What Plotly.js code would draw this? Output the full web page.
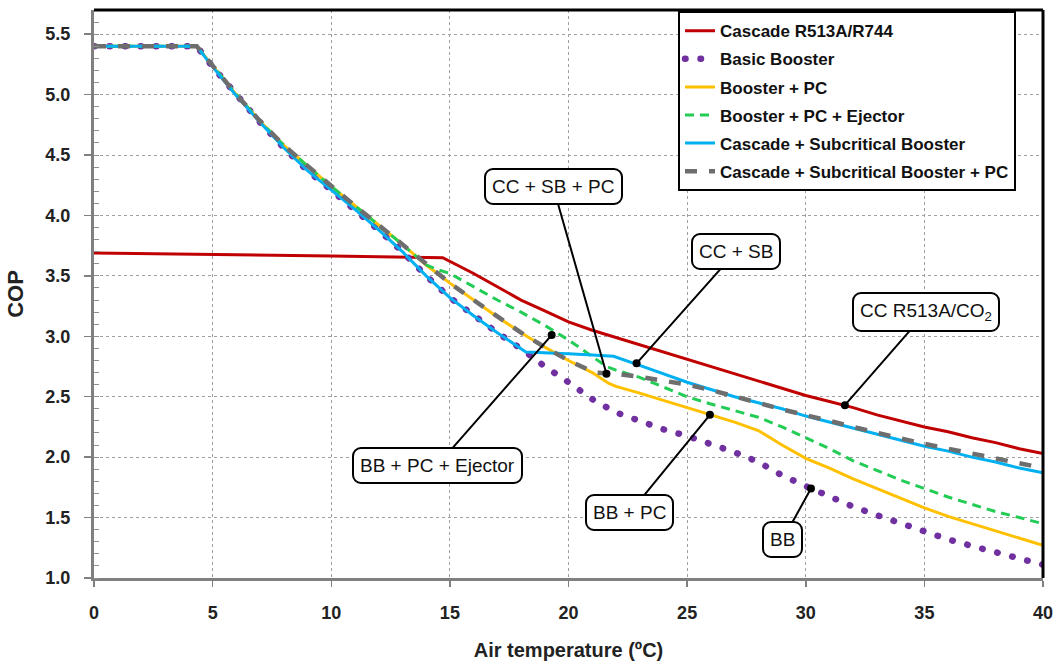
<!DOCTYPE html>
<html>
<head>
<meta charset="utf-8">
<script src="https://cdn.plot.ly/plotly-3.0.1.min.js"></script>
<style>
  html, body { margin: 0; padding: 0; background: #fff; }
  #chart { width: 1058px; height: 664px; }
  path[style*="rgb(112, 48, 160)"] { stroke-linecap: round; }
  .annotation rect.bg { rx: 8px; ry: 8px; }
</style>
</head>
<body>
<div id="chart"></div>
<script>
// ---- Data ----
const seriesNames = [
  "Cascade R513A/R744",
  "Basic Booster",
  "Booster + PC",
  "Booster + PC + Ejector",
  "Cascade + Subcritical Booster",
  "Cascade + Subcritical Booster + PC"
];

const cascadeX = [0, 5, 10, 14.7, 16, 17, 18, 19, 20, 21, 22, 23, 24, 25, 26, 27, 28, 29, 30, 31, 32, 33, 34, 35, 36, 37, 38, 39, 40];
const cascadeY = [3.69, 3.68, 3.665, 3.65, 3.52, 3.41, 3.30, 3.21, 3.12, 3.05, 2.99, 2.93, 2.87, 2.81, 2.75, 2.69, 2.63, 2.57, 2.51, 2.46, 2.41, 2.35, 2.30, 2.25, 2.21, 2.16, 2.12, 2.07, 2.03];

const basicX = [0, 4.33, 5, 6, 7, 8, 9, 10, 11, 12, 13, 14, 15, 16, 17, 18.2, 19, 20, 21, 22, 23, 24, 25, 26, 27, 28, 29, 30, 31, 32, 33, 34, 35, 36, 37, 38, 39, 40];
const basicY = [5.4, 5.4, 5.23, 4.99, 4.77, 4.56, 4.37, 4.21, 4.05, 3.88, 3.70, 3.50, 3.32, 3.17, 3.03, 2.87, 2.75, 2.62, 2.48, 2.37, 2.30, 2.23, 2.175, 2.11, 2.04, 1.96, 1.85, 1.76, 1.675, 1.59, 1.52, 1.45, 1.38, 1.32, 1.265, 1.21, 1.155, 1.11];

const boosterPcX = [0, 4.33, 5, 6, 7, 8, 9, 10, 11, 12, 13, 14, 15, 16, 17, 18, 19, 20, 21, 21.7, 22, 23, 24, 25, 26, 27, 28, 29, 30, 31, 32, 33, 34, 35, 36, 37, 38, 39, 40];
const boosterPcY = [5.4, 5.4, 5.24, 5.0, 4.78, 4.58, 4.41, 4.24, 4.08, 3.92, 3.76, 3.59, 3.44, 3.30, 3.16, 3.03, 2.91, 2.80, 2.70, 2.61, 2.585, 2.53, 2.47, 2.41, 2.35, 2.29, 2.22, 2.10, 1.99, 1.91, 1.82, 1.74, 1.66, 1.58, 1.51, 1.45, 1.385, 1.325, 1.27];

const ejectorX = [0, 4.33, 5, 6, 7, 8, 9, 10, 11, 12, 13, 14, 14.5, 15, 16, 17, 18, 19, 20, 21, 21.6, 22, 23, 24, 25, 26, 27, 28, 29, 30, 31, 32, 33, 34, 35, 36, 37, 38, 39, 40];
const ejectorY = [5.4, 5.4, 5.24, 5.0, 4.78, 4.58, 4.41, 4.24, 4.08, 3.92, 3.76, 3.59, 3.55, 3.52, 3.41, 3.30, 3.20, 3.09, 2.97, 2.83, 2.75, 2.72, 2.66, 2.58, 2.50, 2.44, 2.385, 2.33, 2.25, 2.16, 2.07, 1.97, 1.89, 1.81, 1.74, 1.67, 1.61, 1.55, 1.50, 1.45];

const subcritX = [0, 4.33, 5, 6, 7, 8, 9, 10, 11, 12, 13, 14, 15, 16, 17, 18.2, 19, 20, 21, 21.9, 23, 24, 25, 26, 27, 28, 29, 30, 31, 32, 33, 34, 35, 36, 37, 38, 39, 40];
const subcritY = [5.4, 5.4, 5.23, 4.99, 4.77, 4.56, 4.37, 4.21, 4.05, 3.88, 3.70, 3.50, 3.32, 3.17, 3.03, 2.87, 2.865, 2.855, 2.845, 2.835, 2.76, 2.69, 2.62, 2.56, 2.50, 2.45, 2.40, 2.34, 2.29, 2.24, 2.19, 2.14, 2.09, 2.05, 2.00, 1.96, 1.91, 1.87];

const subcritPcX = [0, 4.33, 5, 6, 7, 8, 9, 10, 11, 12, 13, 14, 15, 16, 17, 18, 19, 20, 21.1, 22, 23, 24, 25, 26, 27, 28, 29, 30, 31, 32, 33, 34, 35, 36, 37, 38, 39, 40];
const subcritPcY = [5.4, 5.4, 5.24, 5.0, 4.78, 4.58, 4.41, 4.24, 4.08, 3.92, 3.76, 3.59, 3.44, 3.30, 3.16, 3.03, 2.91, 2.80, 2.70, 2.69, 2.665, 2.635, 2.60, 2.555, 2.505, 2.45, 2.395, 2.35, 2.30, 2.25, 2.20, 2.155, 2.11, 2.07, 2.03, 1.99, 1.95, 1.91];

// Callout labels: text, point on curve (x, y), label box centre (bx, by)
const calloutText = ["CC + SB + PC", "CC + SB", "CC R513A/CO<sub>2</sub>", "BB + PC + Ejector", "BB + PC", "BB"];
const calloutX  = [21.6, 22.87, 31.65, 19.29, 25.96, 30.22];
const calloutY  = [2.69, 2.776, 2.43, 3.01, 2.35, 1.74];
const calloutBX = [19.35, 27.06, 35.07, 14.46, 22.59, 29.04];
const calloutBY = [4.24, 3.70, 3.20, 1.93, 1.54, 1.32];

const xTickVals = [0, 5, 10, 15, 20, 25, 30, 35, 40];
const yTickVals = [1.0, 1.5, 2.0, 2.5, 3.0, 3.5, 4.0, 4.5, 5.0, 5.5];

// ---- Styling ----
const narrow = "Liberation Sans Narrow, Arial Narrow, Liberation Sans, Arial, sans-serif";
const sans = "Liberation Sans, Arial, sans-serif";

const styles = [
  { color: "#C00000", width: 3, dash: "solid" },
  { color: "rgb(112, 48, 160)", width: 6.5, dash: "0.5px,15px" },
  { color: "#FFC000", width: 3, dash: "solid" },
  { color: "#22CC55", width: 3, dash: "9px,6px" },
  { color: "#00B0F0", width: 3, dash: "solid" },
  { color: "#6E6E6E", width: 4.5, dash: "12px,12px" }
];
const xs = [cascadeX, basicX, boosterPcX, ejectorX, subcritX, subcritPcX];
const ys = [cascadeY, basicY, boosterPcY, ejectorY, subcritY, subcritPcY];

const traces = seriesNames.map((name, i) => ({
  type: "scatter",
  mode: "lines",
  name: name,
  legendgroup: "g" + i,
  x: xs[i],
  y: ys[i],
  line: { color: styles[i].color, width: styles[i].width, dash: styles[i].dash },
  hoverinfo: "skip"
}));

const annotations = calloutText.map((t, i) => ({
  x: calloutX[i], y: calloutY[i], xref: "x", yref: "y",
  ax: calloutBX[i], ay: calloutBY[i], axref: "x", ayref: "y",
  text: t,
  showarrow: true,
  arrowhead: 6, arrowsize: 1, arrowwidth: 2, arrowcolor: "#000",
  standoff: 0,
  font: { family: narrow, size: 19, color: "#111" },
  bgcolor: "#fff", bordercolor: "#000", borderwidth: 2, borderpad: 6
}));

const layout = {
  width: 1058, height: 664,
  margin: { l: 94, r: 15, t: 10, b: 86 },
  paper_bgcolor: "#fff", plot_bgcolor: "#fff",
  showlegend: true,
  legend: {
    x: 0.6154, y: 0.998, xanchor: "left", yanchor: "top",
    bgcolor: "#fff", bordercolor: "#000", borderwidth: 2,
    font: { family: sans, size: 17, color: "#111", weight: "bold" },
    traceorder: "grouped", tracegroupgap: 3
  },
  xaxis: {
    range: [0, 40], tickvals: xTickVals, ticktext: xTickVals.map(String),
    showgrid: true, gridcolor: "#a0a0a0", griddash: "dot", gridwidth: 1,
    showline: true, linecolor: "#808080", linewidth: 3,
    ticks: "outside", ticklen: 6, tickcolor: "#808080", tickwidth: 1.5,
    ticklabelstandoff: 10,
    zeroline: false,
    tickfont: { family: narrow, size: 18, color: "#222", weight: "bold" },
    title: { text: "Air temperature (ºC)", font: { family: narrow, size: 20, color: "#222", weight: "bold" }, standoff: 22 }
  },
  yaxis: {
    range: [1.0, 5.7], tickvals: yTickVals, ticktext: yTickVals.map(v => v.toFixed(1)),
    showgrid: true, gridcolor: "#a0a0a0", griddash: "dot", gridwidth: 1,
    showline: true, linecolor: "#808080", linewidth: 3,
    ticks: "outside", ticklen: 7, tickcolor: "#808080", tickwidth: 1.5,
    ticklabelstandoff: 10,
    minor: { dtick: 0.1, ticks: "inside", ticklen: 5, tickcolor: "#909090", tickwidth: 1, showgrid: false },
    zeroline: false,
    tickfont: { family: narrow, size: 18, color: "#222", weight: "bold" },
    title: { text: "COP", font: { family: narrow, size: 22, color: "#222", weight: "bold" }, standoff: 16 }
  },
  shapes: [
    { type: "line", xref: "paper", yref: "paper", x0: 0, x1: 1, y0: 1, y1: 1, line: { color: "#000", width: 3 }, layer: "above" },
    { type: "line", xref: "paper", yref: "paper", x0: 1, x1: 1, y0: 0, y1: 1, line: { color: "#000", width: 3 }, layer: "above" }
  ],
  annotations: annotations
};

Plotly.newPlot("chart", traces, layout, { displayModeBar: false, staticPlot: true });
</script>
</body>
</html>
